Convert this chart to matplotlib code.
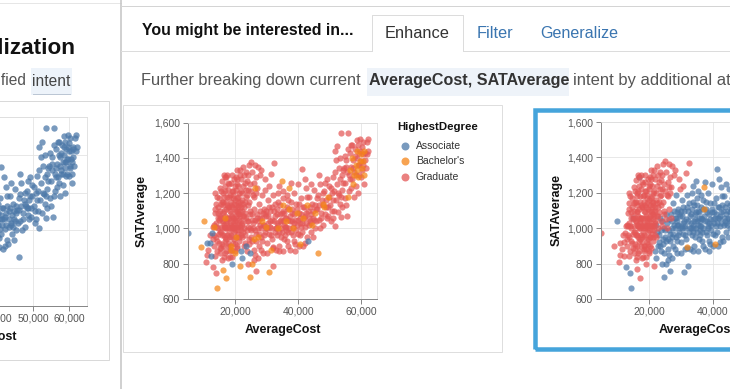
import matplotlib
matplotlib.use("Agg")
import matplotlib.pyplot as plt
import pandas as pd
from matplotlib.patches import Rectangle
from matplotlib.lines import Line2D
from matplotlib.ticker import FuncFormatter

plt.rcParams['font.family'] = ['Liberation Sans', 'DejaVu Sans']

# ---------------- data (AverageCost, SATAverage) ----------------
# grouped by HighestDegree (chart 1 colour) and by the added attribute (chart 2 colour)
assoc_red = [(5100, 973), (11000, 915), (12100, 920), (12500, 975), (12300, 845), (19100, 797)]
assoc_blue = [(22200, 830), (24600, 860), (23500, 900), (43000, 928), (21800, 870)]

bach_red = [(9100, 897), (16200, 767), (17200, 720), (21500, 785), (13300, 1010), (18800, 900),
            (16900, 1060), (20300, 950), (26300, 1230), (20000, 860), (18500, 880)]
bach_blue = [(10100, 1040), (14300, 660), (24700, 727), (30800, 751), (34700, 1266), (35000, 1130),
             (46200, 860), (28600, 1040), (33600, 1000), (39600, 1090), (44500, 1020), (48200, 1120),
             (49300, 1180), (42800, 1130), (26000, 940), (31400, 880), (56300, 1330), (57100, 1400),
             (57700, 1300), (58200, 1360), (58600, 1440), (59100, 1290), (59500, 1380), (59900, 1420),
             (60200, 1340), (60800, 1300), (61000, 1440), (57300, 1250), (58800, 1330), (55700, 1180),
             (60500, 1380), (36000, 1040), (38300, 1000), (41500, 1060), (45400, 1090), (47700, 1140),
             (29900, 1010), (27300, 950), (25300, 800)]
bach_orange = [(37200, 1230), (37100, 1108), (40600, 910)]

grad_orange = [(31900, 894)]
grad_red = [(10600, 807), (10900, 850), (11500, 880), (12800, 1010), (13000, 940), (11900, 960),
            (13200, 1020), (13500, 1085), (13800, 950), (14100, 870), (14400, 1000), (14600, 1120),
            (14800, 915), (13600, 845), (14200, 1180), (14900, 1050), (13900, 1140),
            (15200, 980), (15300, 1100), (15500, 1210), (15600, 890), (15800, 1040), (15900, 820),
            (16000, 1150), (16300, 960), (16500, 1300), (16600, 1070), (16800, 930), (16900, 1240),
            (15400, 1010), (16100, 1130), (16700, 860),
            (17100, 1000), (17300, 1180), (17500, 1060), (17600, 900), (17800, 1260), (17900, 1120),
            (18000, 1250), (18100, 980), (18200, 840), (18400, 1030), (18500, 1150), (18700, 1090),
            (18900, 1210), (17400, 1300), (18300, 870), (17700, 1010),
            (19200, 1060), (19300, 920), (19400, 1170), (19500, 1000), (19600, 1280), (19800, 1110),
            (19900, 870), (20000, 1040), (20100, 1220), (20200, 950), (20300, 1130), (20500, 1010),
            (20600, 1330), (20700, 890), (20800, 1080), (20900, 1180), (19700, 980), (20400, 1250),
            (19100, 1120),
            (21100, 1050), (21200, 930), (21300, 1200), (21600, 1100), (21700, 990), (21800, 1280),
            (22000, 1030), (22100, 1160), (21400, 1300), (21000, 970),
            (15100, 1070), (15700, 1150), (16400, 1020), (17000, 1110), (17200, 940), (18600, 1020),
            (19000, 1070), (19300, 1010), (19900, 1160), (20500, 1100), (21200, 1020), (21900, 1120),
            (16200, 1200), (18400, 1190), (20200, 1290), (17600, 1060), (18900, 1000), (20800, 990),
            (15900, 960), (14500, 1060), (13800, 1030), (16800, 1010), (19600, 940), (21500, 1070),
            (17900, 950),
            (22400, 1240), (22600, 1350), (22800, 1120), (23300, 1320), (23400, 1180), (23700, 1270),
            (24200, 1220), (24400, 1360), (24500, 1150), (25100, 1377), (25500, 1190), (25800, 1260),
            (26300, 1360), (26900, 1230), (22500, 1070), (23100, 1090), (23600, 1040), (24800, 1080),
            (25200, 1050), (26100, 1110), (22300, 950), (22900, 1000), (23900, 1130), (24000, 1010),
            (26800, 1060), (25700, 1000),
            (27800, 1300), (29300, 1280), (29600, 1220), (30700, 1240), (31500, 1310), (32400, 1370),
            (28200, 1330)]
grad_red_core = [(13400, 960), (13700, 1110), (14000, 1010), (14300, 930), (14700, 1170), (15000, 890),
                 (15200, 1230), (15400, 1140), (15600, 980), (15800, 1270), (16000, 1040), (16100, 900),
                 (16300, 1180), (16400, 1100), (16600, 950), (16700, 1210), (16900, 1000), (17000, 870),
                 (17100, 1150), (17300, 1040), (17400, 960), (17600, 1220), (17700, 1120), (17800, 920),
                 (18000, 1060), (18100, 1180), (18200, 1000), (18400, 900), (18600, 1260), (18700, 950),
                 (18800, 1130), (19000, 1010), (19100, 880), (19200, 1210), (19400, 1040), (19500, 1140),
                 (19700, 1060), (19800, 910), (19900, 1240), (20000, 990), (20100, 1100), (20300, 1050),
                 (20400, 900), (20600, 1170), (20700, 1020), (20900, 1120), (21000, 1240), (21100, 950),
                 (21300, 1080), (21400, 1150), (21600, 1010), (21700, 1210), (21900, 960), (22000, 1100),
                 (14900, 970), (15500, 1060), (16200, 1090), (17200, 1030), (18300, 1100), (19300, 1190),
                 (20200, 1070), (21200, 1130), (18500, 960), (17500, 1130), (16500, 1010), (15700, 910),
                 (19600, 1020), (20800, 1150), (21800, 1040), (14400, 1090), (13100, 900), (13700, 1200),
                 (15300, 860), (16800, 1290), (18900, 1300), (20500, 1280), (21500, 1330), (19000, 840),
                 (17800, 830), (16400, 840),
                 (22200, 1200), (22700, 1300), (23000, 1260), (23500, 1220), (24100, 1300), (24700, 1250),
                 (25300, 1320), (25900, 1180), (26500, 1290), (27200, 1350), (22400, 1140), (23800, 1190),
                 (25000, 1210), (26700, 1200), (23200, 1150), (24600, 1100), (22900, 1070)]
grad_blue = [(22700, 900), (23200, 960), (23800, 870), (24300, 940), (24900, 990), (25400, 930),
             (26000, 880), (26500, 970), (26600, 758), (25900, 820), (12800, 780), (14000, 747),
             (17000, 1290), (15000, 1060),
             (27200, 1000), (27400, 1140), (27600, 900), (28000, 1060), (28300, 950), (28500, 1190),
             (28700, 1020), (28900, 860), (29100, 1110), (29500, 980), (29800, 1070),
             (30100, 920), (30300, 1160), (30500, 1030), (31000, 1100), (31200, 960), (31700, 1050),
             (32000, 890), (32100, 785), (32600, 1140), (32800, 1000), (31900, 1190), (32900, 880),
             (33100, 1080), (33300, 960), (33500, 1200), (33700, 1020), (34000, 900), (34200, 1130),
             (34500, 1050), (34900, 980), (35100, 1170), (35300, 870), (35500, 1090), (35800, 1010),
             (33900, 1240), (35600, 940),
             (36100, 1060), (36300, 1190), (36500, 930), (36800, 1110), (37000, 1000), (37400, 880),
             (37700, 1150), (38000, 1040), (38200, 960), (38500, 1200), (38700, 1080), (39000, 910),
             (39200, 1140), (39500, 1020), (39800, 1250), (38900, 870),
             (40200, 1090), (40500, 960), (40900, 1170), (41100, 1336), (41300, 1030), (41600, 900),
             (41800, 1120), (42100, 1010), (42400, 1230), (42700, 950), (43200, 1100), (43500, 1180),
             (43800, 1040), (42000, 1280),
             (44100, 980), (44400, 1140), (44700, 1060), (45000, 1220), (45300, 1000), (45600, 1110),
             (46000, 1170), (46500, 1050), (46800, 1250), (47100, 1090), (47500, 1160), (47900, 1020),
             (48300, 1210), (48700, 1120), (49100, 1280), (49500, 1070), (49800, 1180),
             (27900, 1020), (28800, 1090), (29700, 1000), (30400, 1070), (31100, 1010), (31800, 1120),
             (32300, 1040), (33000, 1000), (33400, 1110), (34100, 1040), (34800, 1090), (35400, 1020),
             (36000, 990), (36600, 1050), (37300, 1070), (37900, 1110), (38400, 1010), (39100, 1050),
             (39900, 970), (40400, 1030), (41000, 1080), (41900, 1060), (42600, 1090), (43400, 1020),
             (44200, 1080), (45100, 1050), (46100, 1110), (47000, 1000), (48000, 1130), (49000, 1060),
             (34400, 950), (36400, 1120), (30600, 970), (38600, 930), (40800, 1010),
             (50200, 1130), (50500, 1040), (50800, 1200), (51100, 1290), (51400, 1100), (51700, 1015),
             (51750, 1440), (52000, 1160), (52300, 1250), (52400, 1467), (52500, 1091), (52800, 1340),
             (53000, 1190), (53300, 1280), (53500, 1540), (53700, 1063), (53900, 1220), (54200, 1330),
             (54500, 1342), (54700, 1170), (55000, 1260), (55300, 1390), (55600, 1069), (55800, 1541),
             (56000, 1300), (56200, 1210), (56500, 1430), (56700, 1350), (57000, 1280), (57200, 1470),
             (57500, 1390), (57800, 1320), (58000, 1450), (58300, 1240), (58500, 1400), (58700, 1500),
             (58900, 1360), (59200, 1430), (59400, 1300), (59600, 1507), (59800, 1380), (60100, 1460),
             (60300, 1330), (60600, 1420), (60900, 1250), (61200, 1390), (61700, 1489), (62000, 1505),
             (62300, 1440), (57600, 1180), (59000, 1200), (54000, 1120), (56800, 1230), (55400, 1320),
             (53200, 1140)]
grad_blue_band = [(22300, 1020), (22600, 980), (23000, 920), (23400, 1060), (23700, 990), (24100, 1040),
                  (24400, 910), (24700, 1000), (25000, 950), (25300, 1080), (25600, 1030), (26200, 990),
                  (26400, 1050), (26700, 930), (27000, 1080), (27300, 1040), (27500, 970), (27700, 1100),
                  (28100, 1000), (28400, 1060), (28600, 930), (29000, 1020), (29200, 960), (29400, 1080),
                  (29900, 1100), (30200, 1000), (30600, 1120), (30900, 1040), (31300, 1000), (31600, 940),
                  (32200, 1100), (32500, 980), (32700, 1070), (33200, 1030), (33600, 1150), (33800, 980),
                  (34300, 1080), (34600, 1000), (35000, 1040), (35200, 1100), (35700, 1060), (35900, 960),
                  (36200, 1010), (36700, 980), (36900, 1160), (37500, 1040), (37800, 980), (38100, 1090),
                  (38800, 1030), (39300, 990), (39700, 1110), (40000, 1050), (40300, 1140), (40700, 1060),
                  (41200, 980), (41500, 1120), (42200, 1070), (42500, 1030), (42900, 1180), (43300, 1060),
                  (43700, 1120), (44000, 1030), (44600, 1100), (45200, 1130), (45700, 1040), (46300, 1190),
                  (46600, 1130), (47300, 1060), (47800, 1200), (48500, 1080), (48900, 1160), (49400, 1120),
                  (49700, 1240), (26200, 850), (28200, 880), (30000, 860), (33800, 870), (36800, 900),
                  (40100, 900), (42300, 920), (44800, 950), (24200, 800), (27100, 830), (35200, 1210),
                  (37600, 1260), (44000, 1250), (46500, 1300), (48600, 1260),
                  (50400, 1230), (51000, 1160), (51600, 1320), (52100, 1390), (52700, 1200), (53300, 1400),
                  (53800, 1300), (54300, 1260), (54800, 1410), (55200, 1350), (55900, 1450), (56400, 1280),
                  (56900, 1470), (57400, 1340), (57900, 1410), (58400, 1300), (58900, 1470), (59300, 1360),
                  (59700, 1440), (60000, 1290), (60400, 1490), (60700, 1360), (61100, 1430), (61500, 1340),
                  (61900, 1420), (50600, 1100), (51300, 1210), (53600, 1180), (55100, 1130), (50900, 1060)]

degree_levels = ["Associate", "Bachelor's", "Graduate"]
group_levels = ["Group 1", "Group 2", "Group 3"]
palette = ["#4c78a8", "#f58518", "#e45756"]

# ---------------- table ----------------
rows = []
for pts, deg, grp in [(grad_red, "Graduate", "Group 3"), (grad_red_core, "Graduate", "Group 3"),
                      (grad_blue, "Graduate", "Group 1"), (grad_blue_band, "Graduate", "Group 1"),
                      (grad_orange, "Graduate", "Group 2"), (bach_red, "Bachelor's", "Group 3"),
                      (bach_blue, "Bachelor's", "Group 1"), (bach_orange, "Bachelor's", "Group 2"),
                      (assoc_red, "Associate", "Group 3"), (assoc_blue, "Associate", "Group 1")]:
    for c, s in pts:
        rows.append((c, s, deg, grp))
df = pd.DataFrame(rows, columns=["AverageCost", "SATAverage", "HighestDegree", "Group"])

# ---------------- figure helpers ----------------
W, H = 730, 389
fig = plt.figure(figsize=(W / 100, H / 100), dpi=100)
PX = 0.72


def fx(x):
    return x / W


def fy(y):
    return 1 - y / H


def axes_px(x0, y0, x1, y1):
    return fig.add_axes([fx(x0), fy(y1), (x1 - x0) / W, (y1 - y0) / H])


def text_px(x, y, s, **kw):
    kw.setdefault("va", "center")
    return fig.text(fx(x), fy(y), s, **kw)


def line_px(xs, ys, color, lw=1.0, **kw):
    fig.add_artist(Line2D([fx(v) for v in xs], [fy(v) for v in ys], transform=fig.transFigure,
                          color=color, lw=lw * PX, **kw))


def rect_px(x0, y0, x1, y1, **kw):
    r = Rectangle((fx(x0), fy(y1)), (x1 - x0) / W, (y1 - y0) / H, transform=fig.transFigure, **kw)
    fig.add_artist(r)
    return r


def style_axes(ax, xticks):
    ax.set_xlim(5000, 65000)
    ax.set_ylim(600, 1600)
    ax.set_xticks(xticks)
    ax.set_yticks(range(600, 1601, 200))
    fmt = FuncFormatter(lambda v, p: f"{int(v):,}")
    ax.xaxis.set_major_formatter(fmt)
    ax.yaxis.set_major_formatter(fmt)
    ax.grid(True, color="#e3e3e3", lw=0.8 * PX)
    ax.set_axisbelow(True)
    for sp in ax.spines.values():
        sp.set_color("#dddddd")
        sp.set_linewidth(0.8 * PX)
    for sp in ("left", "bottom"):
        ax.spines[sp].set_color("#888888")
        ax.spines[sp].set_linewidth(1.0 * PX)
    ax.tick_params(length=5 * PX, width=1.0 * PX, color="#888888", labelsize=7.5,
                   labelcolor="#555555", pad=2)
    ax.set_facecolor("white")


MS = 20

# ---------------- left panel ----------------
line_px([0, 121], [3, 3], "#e6e6e6", 1)
text_px(75.5, 49, "Current Visualization", ha="right", fontsize=16.2, fontweight="bold",
        color="#111111")
rect_px(31, 68, 72, 95, facecolor="#edf3fa", edgecolor="none", zorder=-2)
line_px([33, 71], [94, 94], "#8a9bb0", 1, linestyle=(0, (1, 1)))
text_px(26.5, 81, "Specified", ha="right", fontsize=11.2, color="#555555")
text_px(32, 81, "intent", ha="left", fontsize=11.2, color="#444444")
rect_px(-10, 101, 109, 360, facecolor="white", edgecolor="#d9d9d9", lw=1 * PX, zorder=-1)

ax0 = axes_px(-129, 117, 87, 306)
style_axes(ax0, list(range(10000, 60001, 10000)))
ax0.scatter(df["AverageCost"], df["SATAverage"], s=21, color=palette[0], alpha=0.75,
            linewidths=0)
text_px(-21, 337, "AverageCost", ha="center", fontsize=9, fontweight="bold", color="#111111")

# divider
line_px([121, 121], [0, 389], "#c6c6c6", 1.6)

# ---------------- right widget header ----------------
line_px([121, 730], [6, 6], "#d4d4d4", 1)
text_px(142, 31, "You might be interested in...", ha="left", fontsize=11.4, fontweight="bold",
        color="#111111")
line_px([121, 372], [51, 51], "#dcdcdc", 1)
line_px([463, 730], [51, 51], "#dcdcdc", 1)
line_px([372, 372, 463, 463], [51, 15, 15, 51], "#dcdcdc", 1)
text_px(385, 34, "Enhance", ha="left", fontsize=11.8, color="#333333")
text_px(477, 34, "Filter", ha="left", fontsize=11.8, color="#3a75b0")
text_px(540, 34, "Generalize", ha="left", fontsize=11.6, color="#3a75b0")

rect_px(367, 68, 569, 96, facecolor="#eef3f9", edgecolor="none", zorder=-2)
text_px(141, 81, "Further breaking down current", ha="left", fontsize=11.8, color="#555555")
text_px(369, 81, "AverageCost, SATAverage", ha="left", fontsize=11.6, fontweight="bold",
        color="#333333")
text_px(573, 81, "intent by additional attributes", ha="left", fontsize=11.9, color="#555555")

# ---------------- card 1 ----------------
rect_px(123, 105, 502, 352, facecolor="white", edgecolor="#dedede", lw=1 * PX, zorder=-1)
ax1 = axes_px(188, 122.5, 377, 299)
style_axes(ax1, [20000, 40000, 60000])
for deg in ["Graduate", "Bachelor's", "Associate"]:
    sub = df[df["HighestDegree"] == deg]
    ax1.scatter(sub["AverageCost"], sub["SATAverage"], s=MS,
                color=palette[degree_levels.index(deg)], alpha=0.72, linewidths=0)
text_px(142, 211, "SATAverage", ha="center", rotation=90, fontsize=9, fontweight="bold",
        color="#111111")
text_px(282.5, 330, "AverageCost", ha="center", fontsize=9, fontweight="bold", color="#111111")

text_px(397, 127, "HighestDegree", ha="left", fontsize=8.2, fontweight="bold", color="#111111")
for i, lvl in enumerate(degree_levels):
    yy = 146 + i * 15.3
    fig.add_artist(Line2D([fx(405)], [fy(yy)], transform=fig.transFigure, marker="o",
                          markersize=8 * PX, color=palette[i], alpha=0.75, linestyle="none",
                          markeredgewidth=0))
    text_px(416, yy, lvl, ha="left", fontsize=7.5, color="#333333")

# ---------------- card 2 (highlighted) ----------------
ax2 = axes_px(601, 122, 793, 299)
style_axes(ax2, [20000, 40000, 60000])
for grp in ["Group 1", "Group 3", "Group 2"]:
    sub = df[df["Group"] == grp]
    ax2.scatter(sub["AverageCost"], sub["SATAverage"], s=MS,
                color=palette[group_levels.index(grp)], alpha=0.72, linewidths=0)
text_px(557, 210, "SATAverage", ha="center", rotation=90, fontsize=9, fontweight="bold",
        color="#111111")
text_px(697, 330, "AverageCost", ha="center", fontsize=9, fontweight="bold", color="#111111")
rect_px(534.5, 109.5, 760, 348.5, facecolor="none", edgecolor="#45a4db", lw=4.5 * PX, zorder=5)

fig.savefig("out.png", dpi=100)
